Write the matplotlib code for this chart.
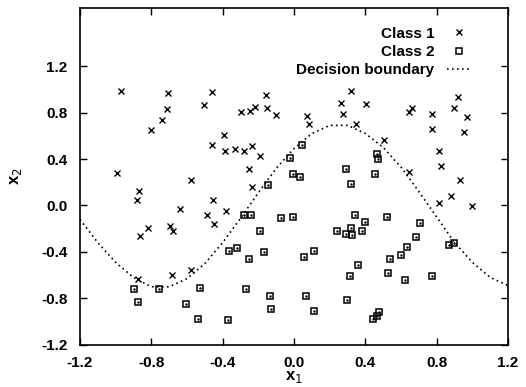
"""Two-class scatter with sinusoidal decision boundary."""
import matplotlib
matplotlib.use("Agg")
import matplotlib.pyplot as plt

plt.rcParams["font.family"] = ["Liberation Sans", "DejaVu Sans"]

# class 1 points (crosses)
c1_x = [-0.97, -0.99, -0.87, -0.88, -0.865, -0.82, -0.80, -0.74, -0.71, -0.705,
        -0.695, -0.68, -0.64, -0.58, -0.505, -0.46, -0.46, -0.455, -0.49, -0.45,
        -0.39, -0.385, -0.38, -0.33, -0.28, -0.30, -0.245, -0.217, -0.235, -0.25,
        -0.235, -0.19, -0.157, -0.15, -0.10, 0.32, 0.264, 0.404, 0.275, 0.071,
        0.086, 0.35, 0.503, 0.643, 0.662, 0.772, 0.772, 0.918, 0.899, 0.967,
        0.95, 0.812, 0.826, 0.931, 0.645, 0.879, 0.815, 1.0, -0.876, -0.682,
        -0.579]
c1_y = [0.99, 0.28, 0.125, 0.047, -0.26, -0.19, 0.65, 0.733, 0.83, 0.965,
        -0.174, -0.217, -0.027, 0.219, 0.865, 0.979, 0.52, 0.045, -0.082, -0.159,
        0.609, 0.469, -0.047, 0.483, 0.469, 0.804, 0.813, 0.85, 0.512, 0.311,
        0.157, 0.426, 0.95, 0.836, 0.776, 0.988, 0.882, 0.873, 0.787, 0.77,
        0.704, 0.704, 0.561, 0.804, 0.839, 0.784, 0.661, 0.936, 0.841, 0.764,
        0.635, 0.466, 0.342, 0.219, 0.286, 0.079, 0.019, -0.007, -0.632, -0.60,
        -0.555]

# class 2 points (squares)
c2_x = [-0.279, -0.239, -0.19, -0.144, -0.071, -0.022, 0.047, -0.004, 0.036, 0.294,
        0.318, 0.464, 0.47, 0.456, -0.004, 0.34, 0.395, 0.522, 0.705, 0.24,
        0.294, 0.32, 0.326, 0.382, 0.685, -0.899, -0.876, -0.759, -0.529, -0.607,
        -0.538, -0.372, -0.366, -0.321, -0.252, -0.166, -0.271, -0.134, -0.13, 0.056,
        0.112, 0.359, 0.314, 0.537, 0.60, 0.636, 0.526, 0.623, 0.774, 0.868,
        0.899, 0.068, 0.112, 0.297, 0.479, 0.464, 0.445]
c2_y = [-0.082, -0.084, -0.219, 0.176, -0.105, 0.411, 0.52, 0.268, 0.243, 0.317,
        0.182, 0.446, 0.40, 0.274, -0.099, -0.079, -0.145, -0.096, -0.15, -0.222,
        -0.245, -0.191, -0.256, -0.219, -0.274, -0.72, -0.827, -0.72, -0.712, -0.845,
        -0.974, -0.985, -0.389, -0.366, -0.463, -0.40, -0.716, -0.779, -0.888, -0.44,
        -0.394, -0.509, -0.604, -0.463, -0.429, -0.357, -0.58, -0.638, -0.606, -0.342,
        -0.322, -0.781, -0.905, -0.813, -0.914, -0.954, -0.976]

# decision boundary
db_x = [-1.2, -1.1, -1.0, -0.9, -0.8, -0.7, -0.6, -0.5, -0.4, -0.3, -0.2, -0.1, 0.0,
        0.1, 0.2, 0.3, 0.4, 0.5, 0.6, 0.7, 0.8, 0.9, 1.0, 1.1, 1.2]
db_y = [-0.12, -0.32, -0.49, -0.62, -0.70, -0.70, -0.63, -0.50, -0.32, -0.11, 0.11,
        0.32, 0.49, 0.62, 0.69, 0.69, 0.62, 0.50, 0.33, 0.12, -0.10, -0.32, -0.49,
        -0.62, -0.69]

ticks = [-1.2, -0.8, -0.4, 0.0, 0.4, 0.8, 1.2]

fig = plt.figure(figsize=(5.26, 3.87), dpi=100)
ax = fig.add_axes([0.152, 0.109, 0.814, 0.870])

ax.plot(c1_x, c1_y, "x", color="black", ms=4.2, mew=1.0, label="Class 1")
ax.plot(c2_x, c2_y, "s", mfc="none", mec="black", ms=4.5, mew=1.1, label="Class 2")
ax.plot(c2_x, c2_y, ".", color="black", ms=1.5)
ax.plot(db_x, db_y, color="black", lw=1.2, linestyle=(0, (1, 2)),
        label="Decision boundary")

ax.set_xlim(-1.2, 1.2)
ax.set_ylim(-1.2, 1.7)
ax.set_xticks(ticks)
ax.set_yticks(ticks)
ax.set_xticklabels([f"{t:.1f}" for t in ticks], fontweight="bold")
ax.set_yticklabels([f"{t:.1f}" for t in ticks], fontweight="bold")
ax.tick_params(direction="in", top=True, right=True, length=5, width=1,
               labelsize=11)
ax.tick_params(axis="x", pad=8)
ax.tick_params(axis="y", pad=9)
for s in ax.spines.values():
    s.set_linewidth(1.2)

ax.set_xlabel("x$_1$", fontsize=12, fontweight="bold", labelpad=-1)
ax.set_ylabel("x$_2$", fontsize=12, fontweight="bold", labelpad=12)

ax.legend(loc="upper right", bbox_to_anchor=(0.915, 0.945), frameon=False,
          markerfirst=False, numpoints=1, prop={"size": 11, "weight": "bold"},
          handlelength=1.6, handletextpad=0.85, labelspacing=0.28,
          borderaxespad=0, borderpad=0)

fig.savefig("out.png", dpi=100)
